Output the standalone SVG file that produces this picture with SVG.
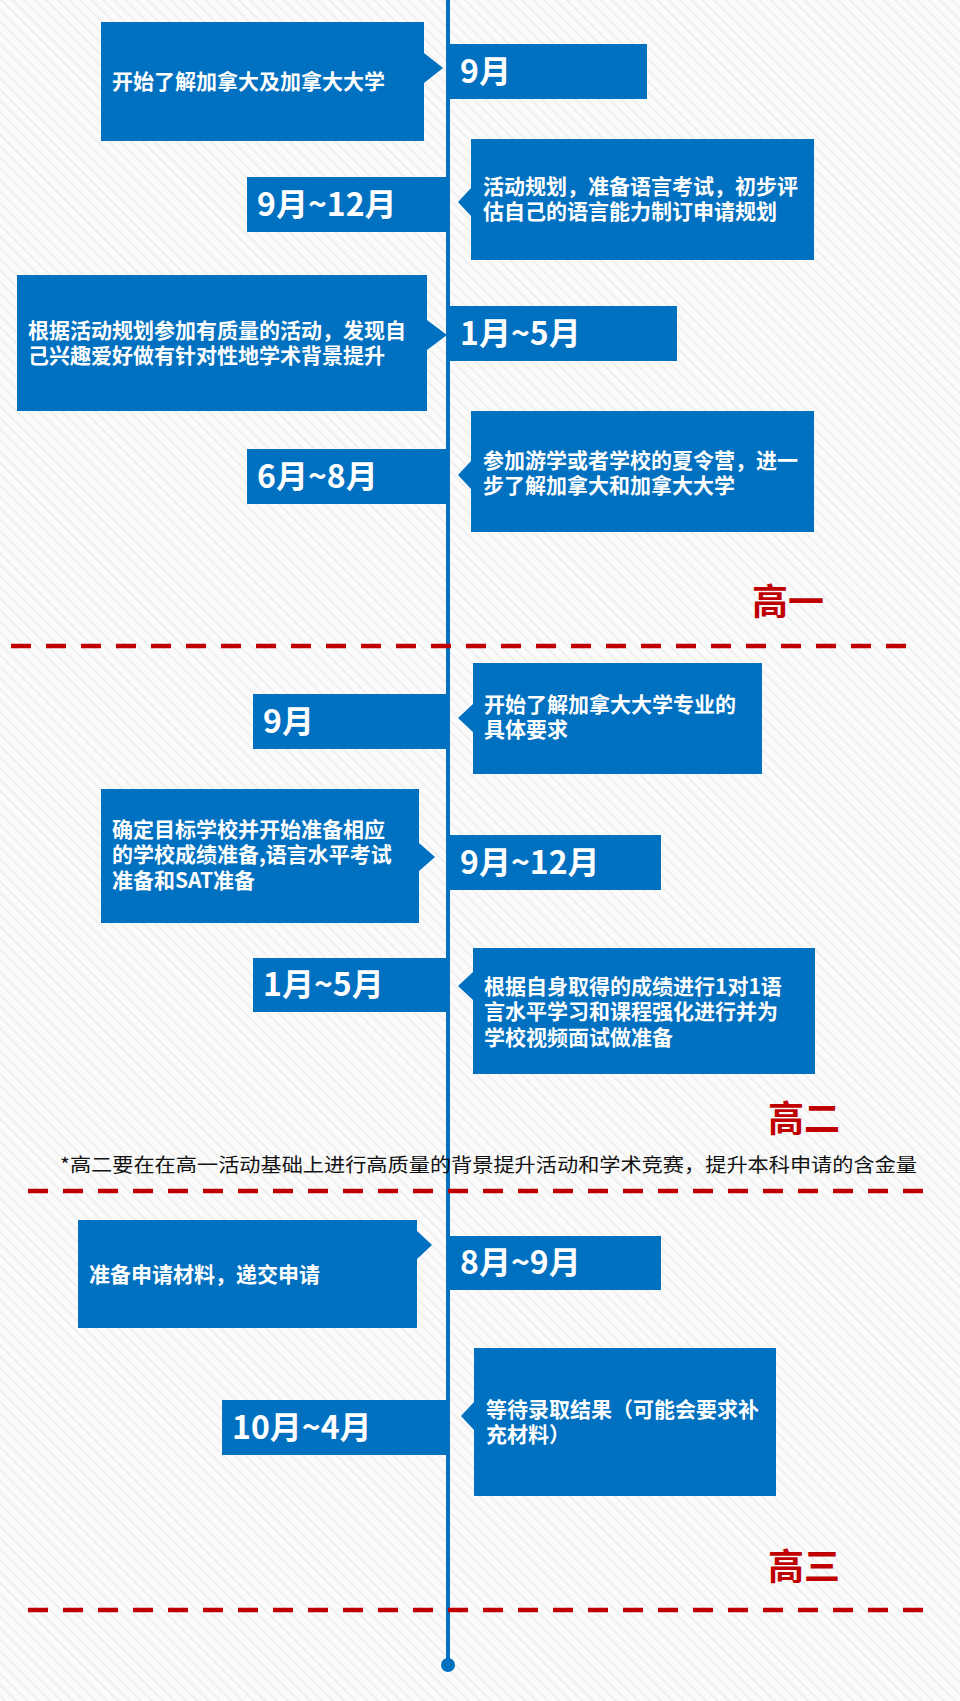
<svg xmlns="http://www.w3.org/2000/svg" width="960" height="1701" viewBox="0 0 960 1701">
<defs>
<pattern id="bg" width="8" height="8" patternUnits="userSpaceOnUse" patternTransform="rotate(-45)">
<rect width="8" height="8" fill="#fbfbfb"/><rect width="1.5" height="8" fill="#ececec"/>
</pattern>
<style>
.b{fill:#0070c0}
.t{fill:#fff;font-family:"Noto Sans CJK SC","Liberation Sans",sans-serif;font-weight:bold;font-size:21px}
.d{fill:#fff;font-family:"Noto Sans CJK SC","Liberation Sans",sans-serif;font-weight:bold;font-size:32px}
.h{fill:#c00000;font-family:"Noto Sans CJK SC",sans-serif;font-weight:bold;font-size:36px}
.r{stroke:#c00000;stroke-width:4.5;stroke-dasharray:20 15;fill:none}
</style>
</defs>
<rect width="960" height="1701" fill="url(#bg)"/>
<g id="connectors">
<line x1="448" y1="0" x2="448" y2="1665" stroke="#0070c0" stroke-width="4"/>
<ellipse cx="448" cy="1665" rx="7" ry="7" fill="#0070c0"/>
<line class="r" x1="11" y1="646" x2="906" y2="646"/>
<line class="r" x1="28" y1="1191" x2="923" y2="1191"/>
<line class="r" x1="28" y1="1610" x2="923" y2="1610"/>
</g>
<g id="n1"><path class="b" d="M101 22H424V53L443 68L424 83V141H101Z"/><text class="t" x="112" y="89">开始了解加拿大及加拿大大学</text></g>
<g id="d1"><rect class="b" x="448" y="44" width="199" height="55"/><text class="d" x="460" y="83">9月</text></g>
<g id="d2"><rect class="b" x="247" y="177" width="201" height="55"/><text class="d" x="257" y="216">9月~12月</text></g>
<g id="n2"><path class="b" d="M471 139H814V260H471V216L458 202L471 188Z"/><text class="t" x="483" y="194">活动规划，准备语言考试，初步评</text><text class="t" x="483" y="219">估自己的语言能力制订申请规划</text></g>
<g id="n3"><path class="b" d="M17 275H427V320L447 335L427 350V411H17Z"/><text class="t" x="28" y="338">根据活动规划参加有质量的活动，发现自</text><text class="t" x="28" y="363">己兴趣爱好做有针对性地学术背景提升</text></g>
<g id="d3"><rect class="b" x="448" y="306" width="229" height="55"/><text class="d" x="460" y="345">1月~5月</text></g>
<g id="d4"><rect class="b" x="247" y="449" width="201" height="55"/><text class="d" x="257" y="488">6月~8月</text></g>
<g id="n4"><path class="b" d="M471 411H814V532H471V489L458 475L471 461Z"/><text class="t" x="483" y="468">参加游学或者学校的夏令营，进一</text><text class="t" x="483" y="493">步了解加拿大和加拿大大学</text></g>
<text class="h" x="752" y="615">高一</text>
<g id="d5"><rect class="b" x="253" y="694" width="194" height="55"/><text class="d" x="263" y="733">9月</text></g>
<g id="n5"><path class="b" d="M473 663H762V774H473V732L458 718L473 704Z"/><text class="t" x="484" y="712">开始了解加拿大大学专业的</text><text class="t" x="484" y="737">具体要求</text></g>
<g id="n6"><path class="b" d="M101 789H419V843L435 857L419 871V923H101Z"/><text class="t" x="112" y="837">确定目标学校并开始准备相应</text><text class="t" x="112" y="862">的学校成绩准备,语言水平考试</text><text class="t" x="112" y="888">准备和SAT准备</text></g>
<g id="d6"><rect class="b" x="448" y="835" width="213" height="55"/><text class="d" x="460" y="874">9月~12月</text></g>
<g id="d7"><rect class="b" x="253" y="958" width="194" height="54"/><text class="d" x="263" y="996">1月~5月</text></g>
<g id="n7"><path class="b" d="M473 948H815V1074H473V1000L458 986L473 972Z"/><text class="t" x="484" y="994">根据自身取得的成绩进行1对1语</text><text class="t" x="484" y="1019">言水平学习和课程强化进行并为</text><text class="t" x="484" y="1045">学校视频面试做准备</text></g>
<text class="h" x="768" y="1132">高二</text>
<text x="60" y="1172" textLength="857" lengthAdjust="spacingAndGlyphs" style="font-family:'Noto Sans CJK SC',sans-serif;font-size:19px;fill:#111">*高二要在在高一活动基础上进行高质量的背景提升活动和学术竞赛，提升本科申请的含金量</text>
<g id="n8"><path class="b" d="M78 1220H417V1231L432 1245L417 1259V1328H78Z"/><text class="t" x="89" y="1282">准备申请材料，递交申请</text></g>
<g id="d8"><rect class="b" x="448" y="1236" width="213" height="54"/><text class="d" x="460" y="1274">8月~9月</text></g>
<g id="d9"><rect class="b" x="222" y="1400" width="226" height="55"/><text class="d" x="232" y="1439">10月~4月</text></g>
<g id="n9"><path class="b" d="M474 1348H776V1496H474V1430L461 1416L474 1402Z"/><text class="t" x="486" y="1417">等待录取结果（可能会要求补</text><text class="t" x="486" y="1442">充材料）</text></g>
<text class="h" x="768" y="1580">高三</text>
</svg>
